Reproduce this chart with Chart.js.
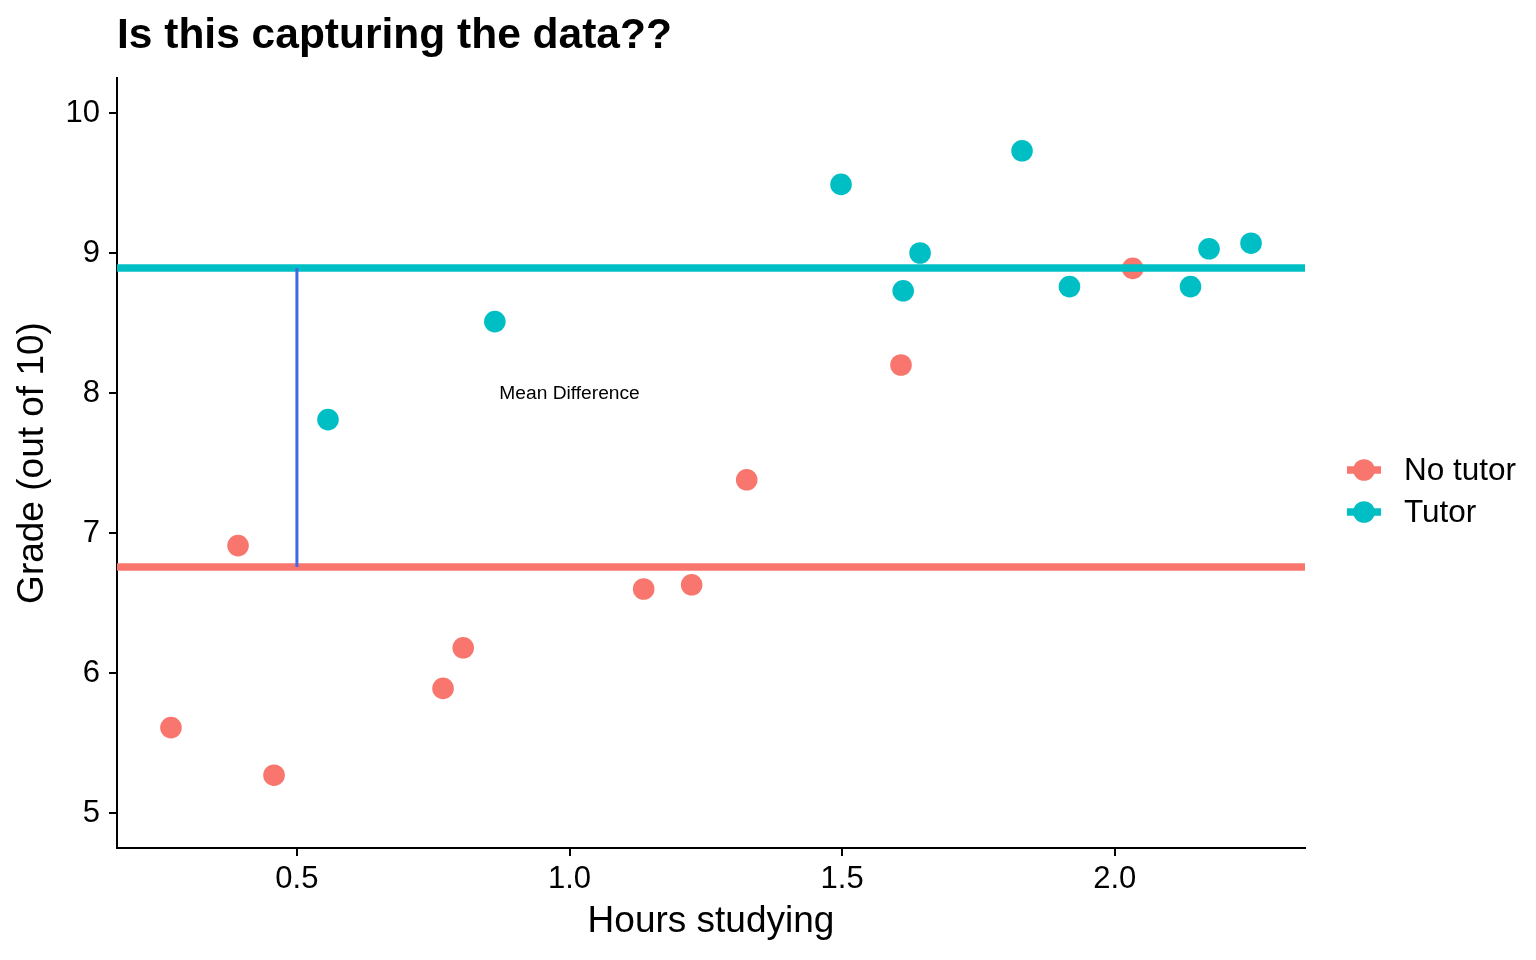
<!DOCTYPE html>
<html>
<head>
<meta charset="utf-8">
<title>Is this capturing the data??</title>
<script src="https://cdn.jsdelivr.net/npm/chart.js@4.4.0/dist/chart.umd.min.js"></script>
<style>
  html, body { margin: 0; padding: 0; background: #fff; }
  canvas { display: block; }
</style>
</head>
<body>
<canvas id="chart" width="1536" height="960"></canvas>
<script>
// hours studied and grade for each student
const noTutorHours = [0.269, 0.392, 0.458, 0.768, 0.805, 1.136, 1.224, 1.325, 1.608, 2.033];
const noTutorGrades = [5.61, 6.91, 5.27, 5.89, 6.18, 6.60, 6.63, 7.38, 8.20, 8.89];
const tutorHours = [0.557, 0.863, 1.498, 1.612, 1.643, 1.830, 1.917, 2.139, 2.173, 2.250];
const tutorGrades = [7.81, 8.51, 9.49, 8.73, 9.00, 9.73, 8.76, 8.76, 9.03, 9.07];

const groupNames = ['No tutor', 'Tutor'];
const groupColors = ['#F8766D', '#00BFC4'];
const groupMeans = [6.757, 8.892];

const xTicks = [0.5, 1.0, 1.5, 2.0];
const yTicks = [5, 6, 7, 8, 9, 10];
const xRange = [0.17, 2.349];
const yRange = [4.75, 10.25];

const diffAt = 0.5;
const noteText = 'Mean Difference';
const notePos = [1.0, 8.0];

const FONT = '"Liberation Sans", Arial, Helvetica, sans-serif';
Chart.defaults.font.family = FONT;
Chart.defaults.color = '#000';

function toPoints(xs, ys){
	return xs.map((x, i) => ({x: x, y: ys[i]}));
}

function hline(i){
	return {
		label: groupNames[i] + ' mean',
		data: [{x: xRange[0], y: groupMeans[i]}, {x: xRange[1], y: groupMeans[i]}],
		showLine: true,
		borderColor: groupColors[i],
		borderWidth: 7.5,
		pointRadius: 0,
		order: 1
	};
}

function dots(i, xs, ys){
	return {
		label: groupNames[i],
		data: toPoints(xs, ys),
		backgroundColor: groupColors[i],
		borderWidth: 0,
		pointRadius: 10.8,
		order: 2
	};
}

// text label placed in data units
const notePlugin = {
	id: 'note',
	afterDatasetsDraw(chart){
		const {ctx, scales} = chart;
		ctx.save();
		ctx.font = '19.2px ' + FONT;
		ctx.fillStyle = '#000';
		ctx.textAlign = 'center';
		ctx.textBaseline = 'middle';
		ctx.fillText(noteText, scales.x.getPixelForValue(notePos[0]), scales.y.getPixelForValue(notePos[1]) + 1);
		ctx.restore();
	}
};

// ggplot style legend on the right: dot with a line through it
const sideLegend = {
	id: 'sideLegend',
	afterDraw(chart){
		const {ctx, chartArea} = chart;
		const mid = (chartArea.top + chartArea.bottom) / 2 + 28;
		const gap = 42;
		const cx = chartArea.right + 59;
		ctx.save();
		ctx.font = '31.5px ' + FONT;
		ctx.textBaseline = 'middle';
		ctx.textAlign = 'left';
		groupNames.forEach((name, i) => {
			const cy = mid + (i - 0.5) * gap;
			ctx.strokeStyle = groupColors[i];
			ctx.lineWidth = 7.5;
			ctx.beginPath();
			ctx.moveTo(cx - 17, cy);
			ctx.lineTo(cx + 17, cy);
			ctx.stroke();
			ctx.fillStyle = groupColors[i];
			ctx.beginPath();
			ctx.arc(cx, cy, 10.8, 0, Math.PI * 2);
			ctx.fill();
			ctx.fillStyle = '#000';
			ctx.fillText(name, cx + 40, cy + 1);
		});
		ctx.restore();
	}
};

const axisLook = {
	grid: {display: true, drawOnChartArea: false, drawTicks: true, tickLength: 8, color: '#000', lineWidth: 2},
	border: {display: true, color: '#000', width: 2}
};

const ctx = document.getElementById('chart');

const chart = new Chart(ctx, {
	type: 'scatter',
	data: {
		datasets: [
			{
				label: 'difference',
				data: [{x: diffAt, y: groupMeans[0]}, {x: diffAt, y: groupMeans[1]}],
				showLine: true,
				borderColor: '#4169E1',
				borderWidth: 3,
				pointRadius: 0,
				order: 0
			},
			hline(0),
			hline(1),
			dots(0, noTutorHours, noTutorGrades),
			dots(1, tutorHours, tutorGrades)
		]
	},
	options: {
		responsive: false,
		animation: false,
		devicePixelRatio: 1,
		layout: {padding: {left: 0, right: 231, top: 0, bottom: 0}},
		plugins: {
			legend: {display: false},
			tooltip: {enabled: false},
			title: {
				display: true,
				text: 'Is this capturing the data??',
				align: 'start',
				fullSize: false,
				color: '#000',
				font: {size: 42.5, weight: 'bold'},
				padding: {top: 11, bottom: 16}
			}
		},
		scales: {
			x: Object.assign({
				type: 'linear',
				min: xRange[0],
				max: xRange[1],
				afterBuildTicks: s => { s.ticks = xTicks.map(v => ({value: v})); },
				afterFit: s => { s.height = 112; },
				ticks: {
					font: {size: 31},
					color: '#000',
					padding: 5,
					callback: v => v.toFixed(1)
				},
				title: {display: true, text: 'Hours studying', font: {size: 37}, color: '#000', padding: {top: 0, bottom: 16}}
			}, axisLook),
			y: Object.assign({
				type: 'linear',
				min: yRange[0],
				max: yRange[1],
				afterBuildTicks: s => { s.ticks = yTicks.map(v => ({value: v})); },
				afterFit: s => { s.width = 117; },
				ticks: {
					font: {size: 31},
					color: '#000',
					padding: 9,
					callback: v => String(v)
				},
				title: {display: true, text: 'Grade (out of 10)', font: {size: 37}, color: '#000', padding: {top: 11, bottom: 0}}
			}, axisLook)
		}
	},
	plugins: [notePlugin, sideLegend]
});
</script>
</body>
</html>
